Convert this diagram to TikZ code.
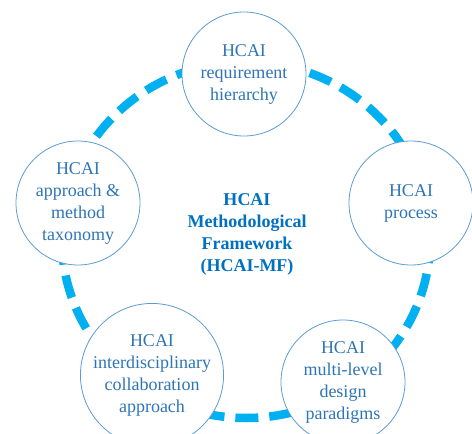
\documentclass[tikz,border=0pt]{standalone}
\usepackage{fontspec}
\setmainfont{Liberation Serif}
\usepackage{tikz}
\usetikzlibrary{positioning}
\definecolor{ringblue}{HTML}{00B0F0}
\definecolor{edgeblue}{HTML}{5B9BD5}
\definecolor{textblue}{HTML}{2E75B6}
\definecolor{hubblue}{HTML}{0070C0}

\begin{document}
\begin{tikzpicture}[x=1pt,y=-1pt,
  topic/.style={circle,draw=edgeblue,line width=0.8pt,fill=white,minimum size=124pt,inner sep=0pt,
    align=center,text=textblue,font=\fontsize{18}{22}\selectfont},
  hub/.style={align=center,text=hubblue,font=\bfseries\fontsize{18}{22}\selectfont},
  ring/.style={ringblue,line width=8.5pt,dash pattern=on 23pt off 11pt}]
\useasboundingbox (0,0) rectangle (472,434);
% dashed ring behind the five topics
\draw[ring] (246,240) ellipse [x radius=184,y radius=178];
\node[hub] (mf) at (247,234) {HCAI\\Methodological\\Framework\\(HCAI-MF)};
\node[topic] (req) at (244,74) {HCAI\\requirement\\hierarchy};
\node[topic] (proc) at (411,203) {HCAI\\process};
\node[topic] (para) at (343,382) {HCAI\\multi-level\\design\\paradigms};
\node[topic] (collab) at (152,375) {HCAI\\interdisciplinary\\collaboration\\approach};
\node[topic] (tax) at (78,203) {HCAI\\approach \&\\method\\taxonomy};
\end{tikzpicture}
\end{document}
